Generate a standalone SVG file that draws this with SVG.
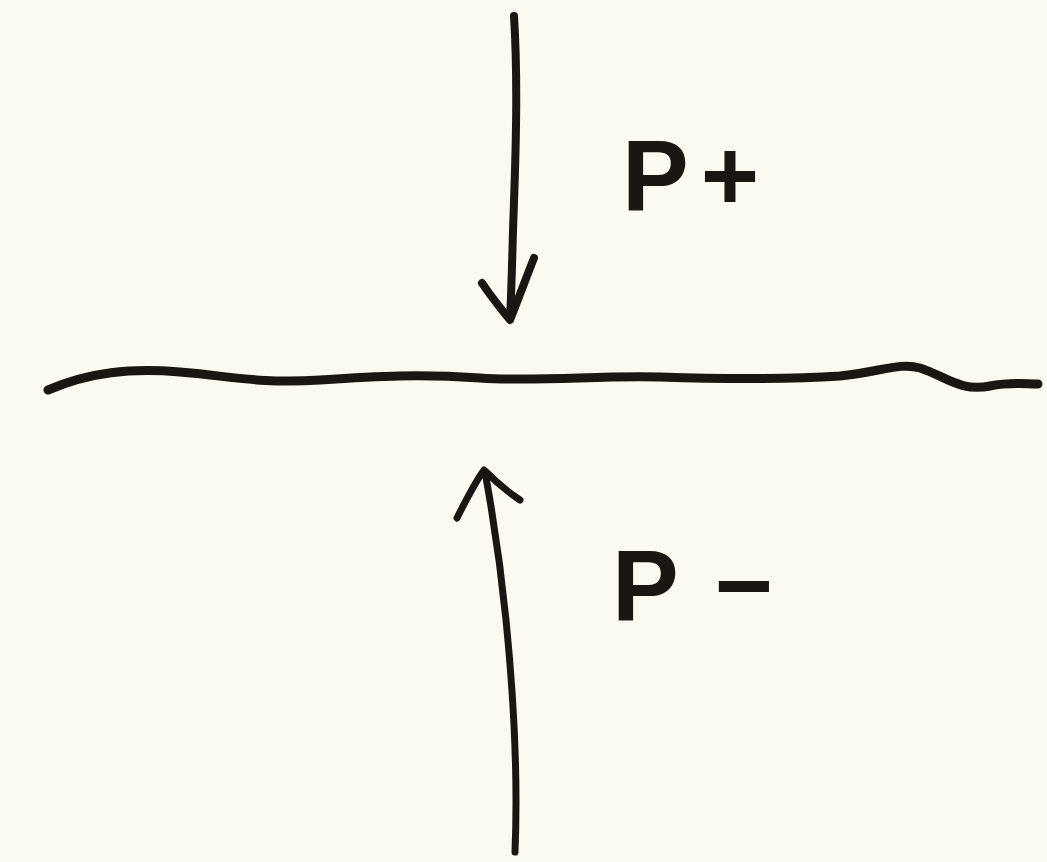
<svg xmlns="http://www.w3.org/2000/svg" width="1047" height="862" viewBox="0 0 1047 862">
<style>
.ink{fill:none;stroke:#1a1712;stroke-linecap:round;stroke-linejoin:round}
.lbl{font-family:"Liberation Sans",Arial,sans-serif;font-weight:bold;fill:#1a1712}
</style>
<rect width="1047" height="862" fill="#fbfaf1"/>
<g id="surface">
<path class="ink" stroke-width="9" d="M48,390 C90,372 130,368 180,372 C230,376 260,384 320,380 C380,376 420,374 480,378 C540,382 600,375 660,377 C720,379 780,380 840,376 C880,372 900,362 920,368 C945,376 960,392 990,386 C1010,382 1025,384 1038,384"/>
</g>
<g id="connectors">
<g id="arrow-down">
<path class="ink" stroke-width="8" d="M514,16 C518,80 516,150 513,230 C512,270 511,300 510,318"/>
<path class="ink" stroke-width="8" d="M482,283 C492,298 502,310 510,320 C518,300 526,278 534,258"/>
</g>
<g id="arrow-up">
<path class="ink" stroke-width="7" d="M515,852 C518,780 514,700 506,620 C500,560 492,510 485,472"/>
<path class="ink" stroke-width="7" d="M457,518 C466,500 474,484 484,470 C496,482 508,492 520,500"/>
</g>
</g>
<g id="label-p-plus">
<text class="lbl" x="622" y="210" font-size="100">P<tspan dx="12">+</tspan></text>
</g>
<g id="label-p-minus">
<text class="lbl" x="612" y="620" font-size="100">P <tspan dx="10">−</tspan></text>
</g>
</svg>
